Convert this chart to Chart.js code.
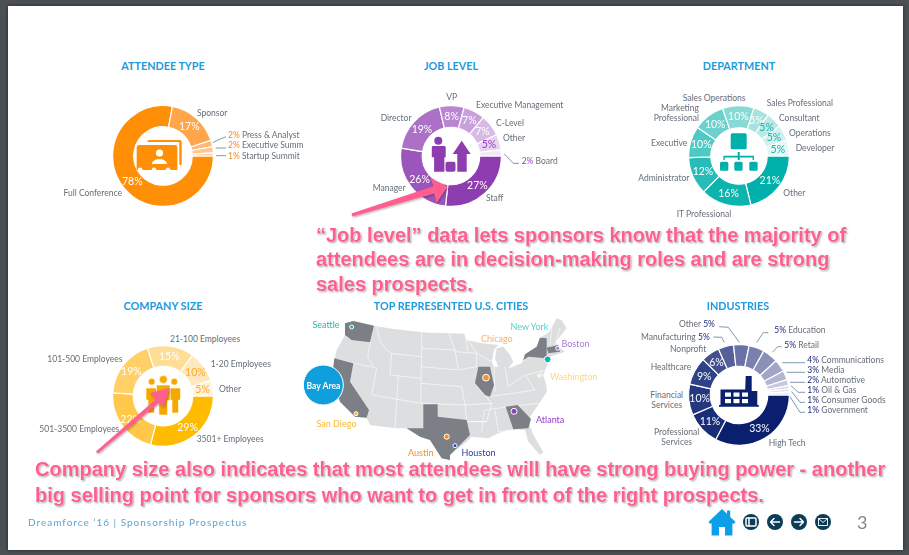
<!DOCTYPE html>
<html><head><meta charset="utf-8">
<script src="https://cdn.jsdelivr.net/npm/chart.js@4"></script>
<style>
html,body{margin:0;padding:0;width:909px;height:555px;overflow:hidden;background:#4b5053}
#page{position:absolute;left:8px;top:6px;width:895px;height:544px;background:#fff;box-shadow:0 0 3px #222}
#stage{position:absolute;left:0;top:0;width:909px;height:555px;font-family:Lato,sans-serif}
canvas{position:absolute}
.t{position:absolute;white-space:nowrap;font-size:8.5px;line-height:10px;color:#666e78;transform:translateY(-50%)}
.t.c{transform:translate(-50%,-50%);text-align:center}
.t.r{transform:translate(-100%,-50%);text-align:right}
.title{position:absolute;transform:translate(-50%,-50%);white-space:nowrap;font:700 10.8px Lato,sans-serif;color:#1d9bdc}
.call{position:absolute;white-space:nowrap;font:700 20px "Liberation Sans",sans-serif;color:#ff5f8e;text-shadow:0 0 2px #fff,0 0 2px #fff,1px 1px 2px rgba(0,0,0,.5);transform-origin:0 50%}
svg{position:absolute;left:0;top:0}
</style></head><body>
<div id="page"></div>
<div id="stage"></div>
<script>
// ---------- data ----------
const attendeeLabels=["Full Conference","Sponsor","Press & Analyst","Executive Summit","Startup Summit"];
const attendeeValues=[78,17,2,2,1];
const jobLabels=["Staff","Manager","Director","VP","Executive Management","C-Level","Other","Board"];
const jobValues=[27,26,19,8,7,7,5,2];
const deptLabels=["Other","IT Professional","Administrator","Executive","Marketing Professional","Sales Operations","Sales Professional","Consultant","Operations","Developer"];
const deptValues=[21,16,12,10,10,10,5,5,5,5];
const sizeLabels=["3501+ Employees","501-3500 Employees","101-500 Employees","21-100 Employees","1-20 Employees","Other"];
const sizeValues=[29,22,19,15,10,5];
const industryLabels=["High Tech","Professional Services","Financial Services","Healthcare","Nonprofit","Manufacturing","Other","Education","Retail","Communications","Media","Automotive","Oil & Gas","Consumer Goods","Government"];
const industryValues=[33,11,10,9,6,5,5,5,5,4,3,2,1,1,1];
const cityNames=["Seattle","New York","Boston","Chicago","Washington","Atlanta","San Diego","Austin","Houston","Bay Area"];
// city positions on the map's own grid
const cityMapX=[170,758,788,573,733,657,183,455,480,85];
const cityMapY=[96,193,160,248,242,349,356,425,452,270];

// ---------- styles ----------
const attendeeColors=["#ff8f07","#ffa54a","#ffb877","#ffc691","#ffd4ad"];
const jobColors=["#8e3db0","#9c55ba","#ac70c7","#ba86d1","#c9a0dc","#d9b9e6","#e7d2ef","#f3e7f7"];
const deptColors=["#00b0aa","#0db4ae","#27bcb7","#4fc9c4","#6cd1cc","#88d9d4","#a5e2de","#bce9e6","#d3f0ee","#e7f7f6"];
const sizeColors=["#ffbb00","#ffc84a","#ffd067","#ffdd95","#ffe8bd","#fff3dc"];
const industryColors=["#0a1f6d","#1a2e78","#24387f","#2f4286","#444f8e","#555f98","#6a72a5","#7a80ae","#8b90b9","#a1a5c7","#b3b6d2","#c6c8de","#d8dae9","#e1e2ee","#ecedf4"];
const purple="#9a3fc0",orange="#f58a2b",teal="#15b5ae",amber="#ffa726",navy="#1b2a78";

const stage=document.getElementById('stage');
function el(cls,html,x,y,extra){const d=document.createElement('div');d.className=cls;d.innerHTML=html;d.style.left=x+'px';d.style.top=y+'px';if(extra)Object.assign(d.style,extra);stage.appendChild(d);return d;}

// ring percentage labels drawn through each arc's own position
const ringText={id:'ringText',afterDatasetsDraw(c,a,o){
  const ctx=c.ctx,ds=c.data.datasets[0];ctx.save();
  ctx.font='400 10.5px Lato';ctx.textAlign='center';ctx.textBaseline='middle';
  c.getDatasetMeta(0).data.forEach((arc,i)=>{
    if(i>=o.count)return;
    const p=arc.tooltipPosition();
    ctx.fillStyle=(o.colors&&o.colors[i])||'#fff';
    ctx.fillText(ds.data[i]+'%',p.x,p.y);
  });ctx.restore();}};

function donut(cx,cy,r,labels,values,colors,count,textColors,cut){
  const cv=document.createElement('canvas');const s=r*2;
  cv.width=s;cv.height=s;cv.style.left=(cx-r)+'px';cv.style.top=(cy-r)+'px';cv.style.width=s+'px';cv.style.height=s+'px';
  stage.appendChild(cv);
  new Chart(cv,{type:'doughnut',plugins:[ringText],data:{labels,datasets:[{data:values,backgroundColor:colors,borderColor:'#fff',borderWidth:1.2}]},
    options:{responsive:false,animation:false,rotation:90,cutout:cut,layout:{padding:0},
      plugins:{legend:{display:false},tooltip:{enabled:false},ringText:{count,colors:textColors}}}});
}
donut(163,155.5,51,attendeeLabels,attendeeValues,attendeeColors,2,null,'58%');
donut(451,155.5,51,jobLabels,jobValues,jobColors,7,[,,,,,,purple],'57%');
donut(738.5,155.5,51,deptLabels,deptValues,deptColors,10,[,,,,,,,teal,teal,teal],'56%');
donut(163,395.5,51,sizeLabels,sizeValues,sizeColors,6,[,,,,amber,amber],'59%');
donut(738.5,395,51,industryLabels,industryValues,industryColors,5,null,'57%');

// ---------- map ----------
const usOutline=[[150,85],[175,78],[237,92],[300,103],[400,113],[470,115],[508,116],[515,135],[560,145],[610,150],[597,165],[590,200],[597,215],[610,215],[600,190],[605,160],[625,155],[645,180],[655,200],[640,220],[680,205],[690,178],[725,155],[735,128],[762,112],[785,70],[800,75],[815,100],[782,140],[790,155],[810,170],[765,185],[755,215],[745,240],[755,275],[755,292],[735,322],[705,365],[700,380],[715,420],[745,472],[735,480],[700,440],[690,405],[640,405],[610,415],[580,430],[530,425],[515,440],[465,480],[465,495],[440,490],[405,435],[375,425],[335,400],[300,400],[225,390],[215,368],[180,365],[135,320],[112,240],[118,195],[125,165],[150,120]];
const darkStates=[
 [[150,85],[175,78],[237,92],[225,142],[170,135],[150,120]],
 [[118,190],[175,205],[165,260],[222,345],[215,368],[180,365],[135,320],[112,240]],
 [[550,215],[585,215],[597,270],[585,305],[570,300],[540,265]],
 [[385,328],[428,328],[428,365],[515,375],[525,420],[465,480],[465,495],[440,490],[405,435],[375,425],[335,400],[385,400]],
 [[632,335],[668,330],[708,372],[700,400],[655,403]],
 [[685,195],[690,178],[725,155],[735,128],[755,130],[755,190],[700,185]],
 [[755,158],[790,150],[795,170],[760,175]]];
const stateLines=[[[150,125],[225,142]],[[118,192],[240,218]],[[237,92],[225,142],[218,190],[240,218]],[[245,95],[255,140],[285,175],[380,185]],[[380,105],[380,185]],[[380,160],[480,165]],[[380,215],[490,225]],[[462,113],[480,165],[490,225]],[[290,175],[285,240],[378,250],[380,185]],[[245,220],[230,300]],[[310,240],[305,320]],[[232,300],[378,325]],[[305,320],[300,400]],[[378,250],[378,325]],[[378,265],[500,275]],[[378,325],[510,330]],[[500,275],[510,330],[515,375]],[[480,170],[545,175],[545,215],[490,225]],[[510,118],[520,175]],[[510,330],[590,325],[575,380],[515,380]],[[525,380],[575,380]],[[540,265],[590,325]],[[520,135],[545,175],[590,200]],[[597,215],[600,290]],[[630,215],[640,275]],[[640,220],[690,195]],[[640,275],[690,240]],[[585,305],[720,285]],[[570,345],[680,330]],[[600,345],[610,410]],[[568,345],[560,410]],[[680,330],[735,325]],[[690,240],[720,285]],[[695,240],[755,225]],[[735,225],[745,245]],[[610,410],[700,400]],[[770,100],[765,150]],[[780,150],[795,100]]];
const cityColors=["#16b6b0","#00b9b5","#a77cd6","#f7952c","#fff0a0","#8e3fc0","#fbb92e","#f58f2c","#2a4ab0","#0f9fdc"];
const cityRadii=[2,3.4,2,3.4,1.6,3,2,2.6,2,20];

const mapBack={id:'mapBack',beforeDatasetsDraw(c){
  const ctx=c.ctx,X=c.scales.x,Y=c.scales.y;
  const path=(pts,close)=>{ctx.beginPath();pts.forEach((p,i)=>{const x=X.getPixelForValue(p[0]),y=Y.getPixelForValue(p[1]);i?ctx.lineTo(x,y):ctx.moveTo(x,y);});if(close)ctx.closePath();};
  ctx.save();ctx.lineJoin='round';
  path(usOutline,true);ctx.fillStyle='#dcdee0';ctx.fill();
  ctx.strokeStyle='#fff';ctx.lineWidth=.6;stateLines.forEach(l=>{path(l);ctx.stroke();});
  ctx.fillStyle='#7c8086';darkStates.forEach(s=>{path(s,true);ctx.fill();});
  ctx.restore();
}};
const mapCv=document.createElement('canvas');mapCv.width=310;mapCv.height=170;
Object.assign(mapCv.style,{left:'295px',top:'295px',width:'310px',height:'170px'});stage.appendChild(mapCv);
new Chart(mapCv,{type:'scatter',plugins:[mapBack],data:{labels:cityNames,datasets:[{data:cityMapX.map((x,i)=>({x,y:cityMapY[i]})),
  pointBackgroundColor:cityColors,pointBorderColor:'#fff',pointBorderWidth:1,pointRadius:cityRadii,clip:false}]},
  options:{responsive:false,animation:false,layout:{padding:0,autoPadding:false},
   scales:{x:{type:'linear',min:0,max:930,display:false},y:{type:'linear',min:0,max:510,reverse:true,display:false}},
   plugins:{legend:{display:false},tooltip:{enabled:false}}}});

// ---------- titles ----------
[["ATTENDEE TYPE",163,64.8],["JOB LEVEL",451,64.8],["DEPARTMENT",739,64.8],["COMPANY SIZE",163,304.8],["TOP REPRESENTED U.S. CITIES",451,304.8],["INDUSTRIES",738,304.8]]
 .forEach(t=>el('title',t[0],t[1],t[2]));

// ---------- outer labels ----------
const pct=(v,c)=>`<span style="color:${c}">${v}%</span> `;
const place=[
 [attendeeLabels[1],197,112.7],[attendeeLabels[0],63.5,193],
 [jobLabels[3],451.7,97.3,'c'],[jobLabels[4],476,105],[jobLabels[5],496,122.7],[jobLabels[6],503,137.7],[jobLabels[2],380.7,117.7],[jobLabels[1],372.7,188],[jobLabels[0],486,198],
 [pct(jobValues[7],purple)+jobLabels[7],521.7,161],
 [deptLabels[5],682.7,97.7],[deptLabels[6],766.7,102.7],["Marketing<br>Professional",699,113,'r'],[deptLabels[7],779,117.7],[deptLabels[8],789,133.3],[deptLabels[9],795.7,148.3],[deptLabels[3],651,143],[deptLabels[2],638.3,178.3],[deptLabels[0],783.3,193],[deptLabels[1],676.7,213.7],
 [sizeLabels[3],170,338.7],[sizeLabels[2],47.3,358.7],[sizeLabels[4],210.7,363.7],[sizeLabels[5],219,388.7],[sizeLabels[1],39.3,429.3],[sizeLabels[0],196.7,439],
 [industryLabels[6]+' '+pct(industryValues[6],navy),679,324.3],[industryLabels[5]+' '+pct(industryValues[5],navy),641,337],[industryLabels[4],670,349.3],[industryLabels[3],650.7,367.3],["Financial<br>Services",666.7,399.7,'c'],["Professional<br>Services",676.7,437.3,'c'],[industryLabels[0],768.7,443],
 [pct(industryValues[7],navy)+industryLabels[7],774.3,329.7],[pct(industryValues[8],navy)+industryLabels[8],784.3,344.7],
 [pct(industryValues[9],navy)+industryLabels[9],807.3,359.7],[pct(industryValues[10],navy)+industryLabels[10],807.3,369.7],[pct(industryValues[11],navy)+industryLabels[11],807.3,380],[pct(industryValues[12],navy)+industryLabels[12],807.3,390],[pct(industryValues[13],navy)+industryLabels[13],807.3,400],[pct(industryValues[14],navy)+industryLabels[14],807.3,410]
];
place.forEach(p=>el('t'+(p[3]?' '+p[3]:''),p[0],p[1],p[2]));
// attendee small-slice labels run off the graphic's edge, as in the source
[[2,135],[3,145],[4,156]].forEach(a=>el('t',pct(attendeeValues[a[0]],orange)+attendeeLabels[a[0]],228,a[1],{width:'75px',overflow:'hidden'}));

// map city labels
[[0,312.5,325,"#22b8b2"],[1,510.5,327,"#4fd0cc"],[2,561.5,344,"#a77cd6"],[3,481,339,"#fbb06a"],[4,550,377,"#fdd978"],[5,536,420,"#8e3fc0"],[6,316.5,424,"#fbb92e"],[7,408,453,"#f58f2c"],[8,461.5,453,"#2a3f9f"]]
 .forEach(c=>el('t',cityNames[c[0]],c[1],c[2],{color:c[3],fontSize:'9px'}));
el('t c',cityNames[9],323.5,385.5,{color:'#fff',fontSize:'8.6px',fontWeight:'700'});

// ---------- artwork: connectors, icons, arrows, footer ----------
const NS='http://www.w3.org/2000/svg';
const svg=document.createElementNS(NS,'svg');svg.setAttribute('width',909);svg.setAttribute('height',555);
svg.innerHTML=`
<defs><filter id="sh" x="-20%" y="-20%" width="140%" height="140%"><feDropShadow dx="0.8" dy="1" stdDeviation="1" flood-color="#000" flood-opacity=".35"/></filter></defs>
<g fill="none" stroke="#5f7f94" stroke-width=".8">
<polyline points="212.7,142.7 218,140 226,136.7"/><polyline points="215.7,148 226,148"/><polyline points="216,155.7 226,155.7"/>
<polyline points="504.3,154 513.3,163.3 519,163.3"/>
<polyline points="719.3,326.7 728.3,327.3 739.3,342.3"/><polyline points="713.3,337 721.7,337.3 724.3,342.3"/>
<polyline points="768.3,332.7 763.3,332.7 756.7,342.3"/><polyline points="781.7,346.7 777.7,346.7 772.3,352.3"/>
<polyline points="805,362.7 782.3,362.7"/><polyline points="805,372.3 786.7,372.3"/><polyline points="805,382.3 790,382.3"/>
<polyline points="805,392.3 798.3,392.3 791,385.7"/><polyline points="805,402.3 800,402.3 791.7,391.7"/><polyline points="805,412.3 800,412.3 790,396.7"/>
</g>
<!-- attendee icon -->
<g fill="#ff8f07">
<path d="M147.3 142a2 2 0 0 1 2-2h30.4a2 2 0 0 1 2 2v22a1 1 0 0 1-2.4 0v-21a1 1 0 0 0-1-1h-31z"/>
<path d="M144 145h31a2.4 2.4 0 0 1 2.4 2.4v22.6h-7a2.4 2.4 0 0 0-4.8 0h-9.2a2.4 2.4 0 0 0-4.8 0h-9a2.4 2.4 0 0 0-4.8 0h-1.1v-22.600a2.400 2.400 0 0 1 2.400-2.400z"/>
<g fill="#fff"><circle cx="159.500" cy="153" r="3.600"/><path d="M152 164c0-3.500 3.500-4 5-4.800h5c1.500.8 5 1.300 5 4.800z"/></g>
</g>
<!-- job icon -->
<g fill="#8e3db0">
<circle cx="438.300" cy="140.700" r="4"/><path d="M433 146h11.500a1.200 1.200 0 0 1 1.200 1.200v10h-1.300v14.500h-10.300v-14.500h-2.300v-10a1.200 1.200 0 0 1 1.200-1.200z"/>
<rect x="445.500" y="161.700" width="10" height="10" rx="2"/>
<path d="M461.700 140.700l9 13.300h-4v17.700h-9.400v-17.700h-4.600z"/>
</g>
<!-- department icon -->
<g fill="#00b0aa">
<rect x="730.700" y="133.300" width="16" height="16" rx="1.500"/>
<rect x="720" y="161.700" width="8.300" height="9" rx="1.500"/><rect x="734.300" y="161.700" width="8.300" height="9" rx="1.500"/><rect x="749.300" y="161.700" width="8.300" height="9" rx="1.500"/>
<path d="M737.700 152h2v3.800h14.300v4.200h-1.400v-2.600h-12.900v2.600h-2v-2.600h-12.900v2.600h-1.400v-4.200h14.300z"/>
</g>
<!-- company icon -->
<g fill="#f5a800" stroke="#fff" stroke-width=".6">
<circle cx="151.700" cy="381.700" r="3.400"/><circle cx="174.300" cy="381.700" r="3.400"/>
<path d="M146 388h10.500v12h-2v13h-6.500v-13h-2z"/><path d="M170 388h10.500v12h-2v13h-6.500v-13h-2z"/>
<circle cx="163.300" cy="379.500" r="4"/><path d="M156.500 385h13.500v15.500h-2.400v14.500h-8.700v-14.500h-2.400z"/>
</g>
<!-- factory icon -->
<path fill="#0a1f6d" d="M745.700 376h6v15h5.600v14h1.500v1.700h-39.800v-1.700h1.500v-15.500h24.700z"/>
<g fill="#fff"><rect x="725" y="392.500" width="6" height="4.200"/><rect x="733.500" y="392.500" width="6" height="4.200"/><rect x="742" y="392.500" width="6" height="4.200"/><rect x="725" y="399" width="6" height="4.200"/><rect x="733.500" y="399" width="6" height="4.200"/><rect x="742" y="399" width="6" height="4.200"/></g>
<!-- callout arrows -->
<g filter="url(#sh)" fill="#ff5f8e">
<path d="M351.500 213.500L433.500 186.300L430.500 178L447.500 186.500L436.500 203L434.300 193.600L352.500 216.500z"/>
<path d="M96 451.500L155.500 399.500L150 393L169.500 388L163.500 407L158.800 403L97.800 453.500z"/>
</g>
<!-- footer icons -->
<path fill="#0a9fe6" d="M722 509l5 4.800v-3.300h3.200v6.400l5.400 5.200-2 2-1.200-1.200v12.600h-7.400v-8.500h-6v8.500h-7.400v-12.600l-1.200 1.200-2-2z"/>
<g fill="#0b3c58">
<circle cx="751" cy="522" r="8"/><circle cx="775" cy="522" r="8"/><circle cx="799" cy="522" r="8"/><circle cx="823" cy="522" r="8"/>
</g>
<g fill="none" stroke="#fff" stroke-width="1.500" stroke-linecap="round" stroke-linejoin="round">
<rect x="746" y="518" width="10" height="8" rx="1"/><path d="M749 518v8"/>
<path d="M779.500 522h-9m3.500-3.500l-3.500 3.500 3.500 3.500"/><path d="M794.500 522h9m-3.500-3.500l3.500 3.500-3.500 3.500"/>
</g>
<g fill="none" stroke="#fff" stroke-width=".9"><rect x="818.500" y="518.500" width="9" height="7"/><path d="M818.500 518.500l4.500 4 4.500-4"/></g>`;
stage.appendChild(svg);

// ---------- callouts & footer text ----------
el('call','“Job level” data lets sponsors know that the majority of',316,234.5,{transform:'translateY(-50%)'});
el('call','attendees are in decision-making roles and are strong',316,259,{transform:'translateY(-50%)'});
el('call','sales prospects.',316,283.5,{transform:'translateY(-50%)'});
el('call','Company size also indicates that most attendees will have strong buying power - another',35,468.5,{transform:'translateY(-50%)'});
el('call','big selling point for sponsors who want to get in front of the right prospects.',35,494.5,{transform:'translateY(-50%)'});
el('t','Dreamforce ’16 | Sponsorship Prospectus',28,522,{color:'#5aa3d4',fontSize:'10px',letterSpacing:'1px'});
el('t','3',857,521.5,{color:'#7b8794',fontSize:'18px',lineHeight:'20px'});
</script>
</body></html>
